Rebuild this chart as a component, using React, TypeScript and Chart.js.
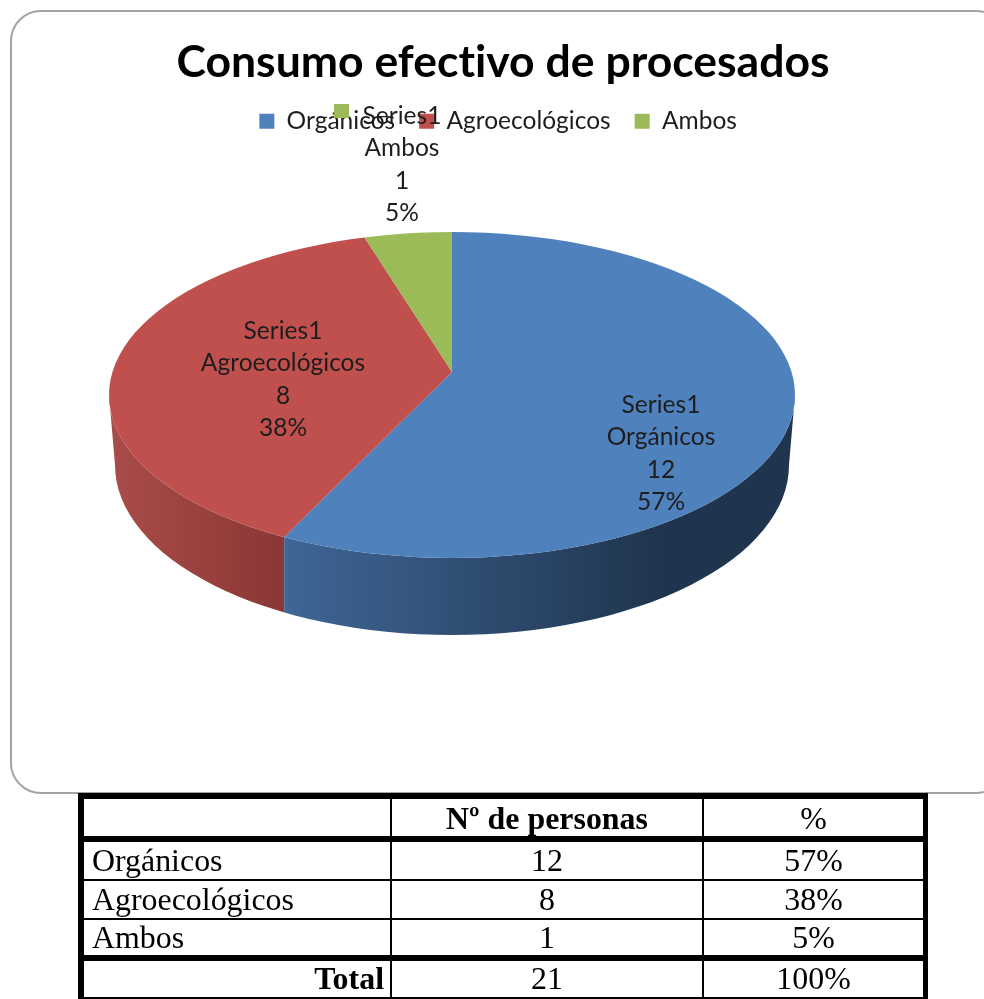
import React, { useEffect, useRef } from "react";
import { Chart, registerables } from "chart.js";

Chart.register(...registerables);

const chartTitle = "Consumo efectivo de procesados";
const seriesName = "Series1";
const categories = ["Orgánicos", "Agroecológicos", "Ambos"];
const personas = [12, 8, 1];
const percentLabels = ["57%", "38%", "5%"];
const totalPersonas = "21";
const totalPercent = "100%";
const colors = ["#4f81bd", "#c0504d", "#9bbb59"];

// Layout of the perspective drawing
const APEX = { x: 452, y: 372 };
const TOP_FACE = { x: 452, y: 395, rx: 343, ry: 163 };
const BOTTOM_FACE = { x: 452, y: 465, rx: 337, ry: 170 };
const TILT = 0.474;
const COVER = 400;
const LABEL_POS = [
  { x: 661, y: 405 },
  { x: 283, y: 331 },
  { x: 402, y: 116 },
];
const LABEL_LINE = 32.4;
const LABEL_FONT = "24.5px Lato";

const sidePath = (ctx: CanvasRenderingContext2D) => {
  ctx.beginPath();
  ctx.ellipse(TOP_FACE.x, TOP_FACE.y, TOP_FACE.rx, TOP_FACE.ry, 0, 0, Math.PI, false);
  ctx.ellipse(BOTTOM_FACE.x, BOTTOM_FACE.y, BOTTOM_FACE.rx, BOTTOM_FACE.ry, 0, Math.PI, 0, true);
  ctx.closePath();
};

// where a slice edge angle meets the rim of the top face
const rimX = (angle: number) => {
  const dx = Math.cos(angle);
  const dy = Math.sin(angle) * TILT;
  const ox = APEX.x - TOP_FACE.x;
  const oy = APEX.y - TOP_FACE.y;
  const a = (dx * dx) / TOP_FACE.rx ** 2 + (dy * dy) / TOP_FACE.ry ** 2;
  const b = 2 * ((ox * dx) / TOP_FACE.rx ** 2 + (oy * dy) / TOP_FACE.ry ** 2);
  const c = (ox * ox) / TOP_FACE.rx ** 2 + (oy * oy) / TOP_FACE.ry ** 2 - 1;
  const t = (-b + Math.sqrt(b * b - 4 * a * c)) / (2 * a);
  return APEX.x + dx * t;
};

const pie3d = {
  id: "pie3d",
  beforeDraw(chart: any) {
    const { ctx } = chart;
    ctx.letterSpacing = "0.01px";
    ctx.save();
    ctx.fillStyle = "#ffffff";
    ctx.fillRect(0, 0, chart.width, chart.height);
    ctx.beginPath();
    ctx.roundRect(11, 11, 995, 782, 30);
    ctx.strokeStyle = "#a3a3a3";
    ctx.lineWidth = 2;
    ctx.stroke();
    ctx.restore();
  },
  afterLayout(chart: any) {
    chart.titleBlock.left += 11;
    chart.titleBlock.right += 11;
    chart.titleBlock.top = 36;
    const legend = chart.legend;
    const h = legend.bottom - legend.top;
    legend.left += 6;
    legend.right += 6;
    legend.top = 85;
    legend.bottom = 85 + h;
  },
  beforeDatasetsDraw(chart: any) {
    const { ctx } = chart;
    const arcs = chart.getDatasetMeta(0).data;
    const split = rimX(arcs[0].endAngle);
    ctx.save();
    sidePath(ctx);
    ctx.clip();
    const red = ctx.createLinearGradient(112, 0, split, 0);
    red.addColorStop(0, "#a94c49");
    red.addColorStop(1, "#8a3735");
    ctx.fillStyle = red;
    ctx.fillRect(100, 380, split - 100, 270);
    const blue = ctx.createLinearGradient(split, 0, 665, 0);
    blue.addColorStop(0, "#3f6696");
    blue.addColorStop(1, "#1f344d");
    ctx.fillStyle = blue;
    ctx.fillRect(split, 380, 700, 270);
    ctx.restore();
  },
  beforeDatasetDraw(chart: any) {
    const { ctx } = chart;
    const arc = chart.getDatasetMeta(0).data[0];
    const k = COVER / arc.outerRadius;
    ctx.save();
    ctx.beginPath();
    ctx.ellipse(TOP_FACE.x, TOP_FACE.y, TOP_FACE.rx, TOP_FACE.ry, 0, 0, Math.PI * 2);
    ctx.clip();
    ctx.translate(APEX.x, APEX.y);
    ctx.scale(k, k * TILT);
    ctx.translate(-arc.x, -arc.y);
  },
  afterDatasetDraw(chart: any) {
    chart.ctx.restore();
  },
  afterDatasetsDraw(chart: any) {
    const { ctx } = chart;
    ctx.save();
    ctx.fillStyle = colors[2];
    ctx.fillRect(334, 104, 15, 14);
    ctx.font = LABEL_FONT;
    ctx.fillStyle = "#1d1d1d";
    ctx.textAlign = "center";
    ctx.textBaseline = "middle";
    categories.forEach((cat, i) => {
      const lines = [seriesName, cat, String(personas[i]), percentLabels[i]];
      lines.forEach((line, j) => {
        ctx.fillText(line, LABEL_POS[i].x, LABEL_POS[i].y + j * LABEL_LINE);
      });
    });
    ctx.restore();
  },
};

const tableFont = "'Liberation Serif', serif";

const cell = (
  bt: number,
  br: number,
  bb: number,
  bl: number,
  align: "left" | "center" | "right",
  bold: boolean,
  pad = 0,
): React.CSSProperties => ({
  boxSizing: "border-box",
  borderStyle: "solid",
  borderColor: "#000",
  borderWidth: `${bt}px ${br}px ${bb}px ${bl}px`,
  textAlign: align,
  fontWeight: bold ? 700 : 400,
  padding: align === "left" ? `0 0 0 ${pad}px` : align === "right" ? `0 ${pad}px 0 0` : 0,
  lineHeight: "30px",
  verticalAlign: "middle",
  overflow: "hidden",
  whiteSpace: "nowrap",
});

const rowHeights = [39, 39, 41];
const rowBottoms = [2, 2, 6];

export default function App() {
  const ref = useRef<HTMLCanvasElement>(null);
  useEffect(() => {
    const chart = new Chart(ref.current as HTMLCanvasElement, {
      type: "pie",
      data: {
        labels: categories,
        datasets: [
          {
            label: seriesName,
            data: personas,
            backgroundColor: colors,
            borderWidth: 0,
            clip: false,
          } as any,
        ],
      },
      options: {
        animation: false,
        responsive: false,
        layout: { padding: 0 },
        plugins: {
          tooltip: { enabled: false },
          title: {
            display: true,
            text: chartTitle,
            color: "#000000",
            font: { family: "Lato", size: 44.5, weight: "bold" },
            padding: 0,
          },
          legend: {
            display: true,
            position: "top",
            labels: {
              boxWidth: 15,
              boxHeight: 15,
              padding: 24,
              color: "#1d1d1d",
              font: { family: "Lato", size: 24.5 },
            },
          },
        },
      },
      plugins: [pie3d],
    });
    return () => chart.destroy();
  }, []);

  return (
    <div style={{ position: "absolute", left: 0, top: 0, width: 984, height: 999, overflow: "hidden", background: "#fff", filter: "blur(0.45px)" }}>
      <canvas ref={ref} width={984} height={999} style={{ display: "block", position: "absolute", left: 0, top: 0 }} />
      <table
        style={{
          position: "absolute",
          left: 78,
          top: 793,
          width: 850,
          height: 206,
          tableLayout: "fixed",
          borderCollapse: "separate",
          borderSpacing: 0,
          fontFamily: tableFont,
          fontSize: 31.9,
          color: "#000",
        }}
      >
        <colgroup>
          <col style={{ width: 314 }} />
          <col style={{ width: 312 }} />
          <col style={{ width: 224 }} />
        </colgroup>
        <tbody>
          <tr style={{ height: 49 }}>
            <td style={cell(6, 2, 6, 6, "left", false, 8)}></td>
            <td style={{ ...cell(6, 2, 6, 0, "center", true), paddingTop: 3 }}>Nº de personas</td>
            <td style={{ ...cell(6, 5, 6, 0, "center", false), paddingTop: 3 }}>%</td>
          </tr>
          {categories.map((cat, i) => (
            <tr key={cat} style={{ height: rowHeights[i] }}>
              <td style={cell(0, 2, rowBottoms[i], 6, "left", false, 8)}>{cat}</td>
              <td style={cell(0, 2, rowBottoms[i], 0, "center", false)}>{personas[i]}</td>
              <td style={cell(0, 5, rowBottoms[i], 0, "center", false)}>{percentLabels[i]}</td>
            </tr>
          ))}
          <tr style={{ height: 38 }}>
            <td style={cell(0, 2, 2, 6, "right", true, 6)}>Total</td>
            <td style={cell(0, 2, 2, 0, "center", false)}>{totalPersonas}</td>
            <td style={cell(0, 5, 2, 0, "center", false)}>{totalPercent}</td>
          </tr>
        </tbody>
      </table>
    </div>
  );
}
